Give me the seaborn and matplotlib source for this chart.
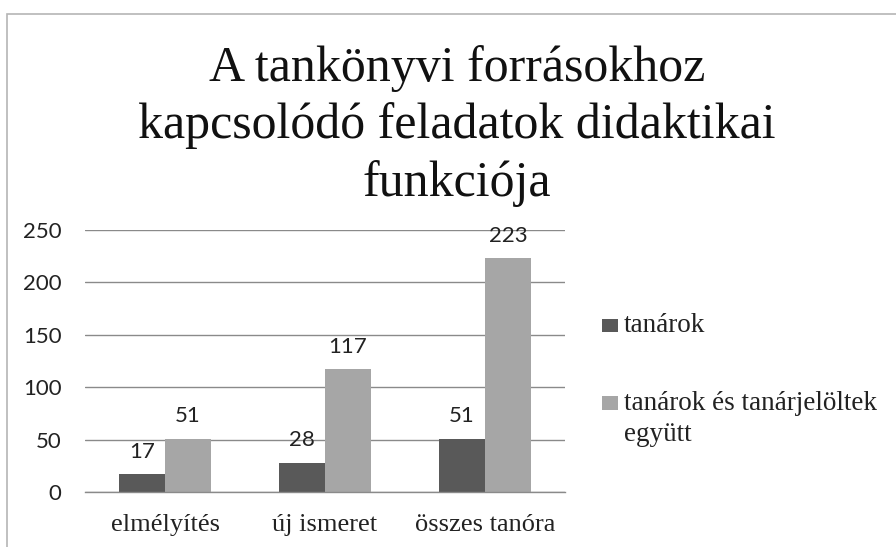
import matplotlib
matplotlib.use("Agg")
import matplotlib.pyplot as plt
import seaborn as sns
import pandas as pd
from matplotlib.patches import Rectangle

categories = ["elmélyítés", "új ismeret", "összes tanóra"]
series_names = ["tanárok", "tanárok és tanárjelöltek együtt"]
tanarok = [17, 28, 51]
egyutt = [51, 117, 223]
legend_labels = ["tanárok", "tanárok és tanárjelöltek\negyütt"]
title = "A tankönyvi forrásokhoz\nkapcsolódó feladatok didaktikai\nfunkciója"

df = pd.DataFrame({
    "kategória": categories * 2,
    "sorozat": [series_names[0]] * 3 + [series_names[1]] * 3,
    "érték": tanarok + egyutt,
})

sns.set_theme(style="white")
serif = ["Liberation Serif", "DejaVu Serif"]
sans = ["Lato", "DejaVu Sans"]

fig = plt.figure(figsize=(8.96, 5.47), dpi=100)
ax = fig.add_axes([85 / 896, 1 - 492 / 547, 480 / 896, 262 / 547])

sns.barplot(data=df, x="kategória", y="érték", hue="sorozat",
            palette=["#595959", "#a6a6a6"], width=0.575, gap=0,
            saturation=1, ax=ax, edgecolor="none")

ax.set_ylim(0, 250)
ax.set_yticks([0, 50, 100, 150, 200, 250])
ax.yaxis.grid(True, color="#8a8a8a", linewidth=1)
ax.set_axisbelow(True)
for s in ["top", "right", "left"]:
    ax.spines[s].set_visible(False)
ax.spines["bottom"].set_color("#8a8a8a")
ax.spines["bottom"].set_linewidth(1)
ax.set_xlabel("")
ax.set_ylabel("")
ax.tick_params(axis="y", length=0, pad=17, labelsize=16, colors="#222222")
ax.tick_params(axis="x", length=0, pad=16, labelsize=19, colors="#222222")
for lab in ax.get_yticklabels():
    lab.set_family(sans)
for lab in ax.get_xticklabels():
    lab.set_family(serif)

for cont in ax.containers:
    lbls = ax.bar_label(cont, padding=9, fontsize=16, color="#222222")
    for t in lbls:
        t.set_family(sans)

handles, _ = ax.get_legend_handles_labels()
leg = ax.legend(handles, legend_labels, loc="upper left",
                bbox_to_anchor=(602 / 896, 1 - 313 / 547),
                bbox_transform=fig.transFigure, frameon=False,
                prop={"family": serif, "size": 19.5},
                handlelength=0.6, handleheight=1.0, handletextpad=0.2,
                labelspacing=1.95, borderaxespad=0, borderpad=0)
for t in leg.get_texts():
    t.set_color("#222222")
    t.set_linespacing(1.3)
# square marker aligned with the first text line, as in the reference
for col in leg._legend_handle_box.get_children():
    for row in col.get_children():
        row.align = "top"
for h in leg.legend_handles:
    full = h.get_height()
    h.set_height(full * 0.55)
    h.set_y(h.get_y() + full * 0.22)

fig.text(0.51, 1 - 126 / 547, title, ha="center", va="center",
         family=serif, fontsize=36, linespacing=1.28, color="#111111")

fig.patches.append(Rectangle((7 / 896, -0.1), 1.2, 1 - 14 / 547 + 0.1,
                             transform=fig.transFigure, fill=False,
                             edgecolor="#b5b5b5", linewidth=1.2))

fig.savefig("out.png", dpi=100)
